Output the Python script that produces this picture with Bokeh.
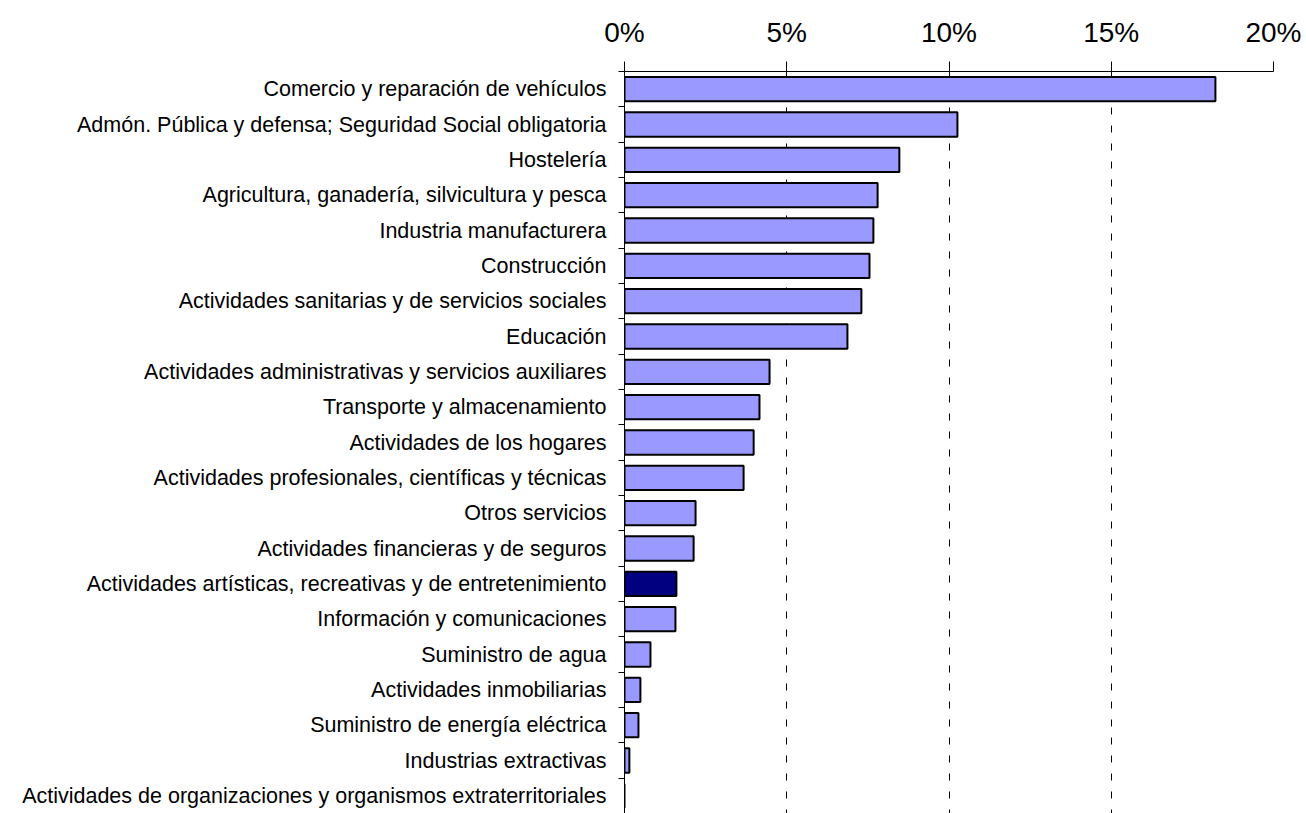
from bokeh.plotting import figure
from bokeh.models import Range1d, FixedTicker, ColumnDataSource
from bokeh.embed import file_html
from bokeh.resources import INLINE

categories = [
    "Comercio y reparación de vehículos",
    "Admón. Pública y defensa; Seguridad Social obligatoria",
    "Hostelería",
    "Agricultura, ganadería, silvicultura y pesca",
    "Industria manufacturera",
    "Construcción",
    "Actividades sanitarias y de servicios sociales",
    "Educación",
    "Actividades administrativas y servicios auxiliares",
    "Transporte y almacenamiento",
    "Actividades de los hogares",
    "Actividades profesionales, científicas y técnicas",
    "Otros servicios",
    "Actividades financieras y de seguros",
    "Actividades artísticas, recreativas y de entretenimiento",
    "Información y comunicaciones",
    "Suministro de agua",
    "Actividades inmobiliarias",
    "Suministro de energía eléctrica",
    "Industrias extractivas",
    "Actividades de organizaciones y organismos extraterritoriales",
]
values = [18.21, 10.26, 8.47, 7.80, 7.67, 7.55, 7.30, 6.87, 4.47, 4.16, 3.98,
          3.67, 2.19, 2.13, 1.60, 1.57, 0.80, 0.49, 0.43, 0.15, 0.0]
highlight = "Actividades artísticas, recreativas y de entretenimiento"

x_ticks = [0, 5, 10, 15, 20]
x_tick_labels = ["0%", "5%", "10%", "15%", "20%"]

n = len(categories)
pos = list(range(n))
colors = ["#000080" if c == highlight else "#9999FF" for c in categories]
src = ColumnDataSource(dict(y=pos, v=values, color=colors, cat=categories))

p = figure(width=1306, height=813,
           x_range=Range1d(0, 20), y_range=Range1d(n - 0.5, -0.5),
           x_axis_location="above", output_backend="svg", toolbar_location=None,
           min_border_left=624, min_border_top=71, min_border_right=33,
           min_border_bottom=0)
p.outline_line_color = None
p.background_fill_color = "white"
p.border_fill_color = "white"

p.hbar(y="y", left=0, right="v", height=0.69, fill_color="color",
       line_color="black", line_width=2, source=src)

# x axis (top)
xa = p.xaxis[0]
xa.ticker = FixedTicker(ticks=x_ticks)
xa.major_label_overrides = {t: l for t, l in zip(x_ticks, x_tick_labels)}
xa.major_label_text_font = "Liberation Sans"
xa.major_label_text_font_size = "28px"
xa.major_label_text_color = "black"
xa.major_label_standoff = 14
xa.major_tick_in = 0
xa.major_tick_out = 10
xa.major_tick_line_color = "black"
xa.minor_tick_line_color = None
xa.axis_line_color = "black"

# y axis (left)
ya = p.yaxis[0]
ya.ticker = FixedTicker(ticks=pos, minor_ticks=[i - 0.5 for i in range(n + 1)])
ya.major_label_overrides = {i: c for i, c in zip(pos, categories)}
ya.major_label_text_font = "Liberation Sans"
ya.major_label_text_font_size = "21.5px"
ya.major_label_text_color = "black"
ya.major_label_standoff = 12
ya.major_tick_in = 0
ya.major_tick_out = 0
ya.minor_tick_in = 0
ya.minor_tick_out = 6
ya.minor_tick_line_color = "black"
ya.axis_line_color = "black"

p.xgrid.ticker = FixedTicker(ticks=x_ticks)
p.xgrid.grid_line_color = "black"
p.xgrid.grid_line_dash = "7 11"
p.xgrid.grid_line_width = 1
p.ygrid.grid_line_color = None

open("out.html", "w").write(file_html(p, INLINE))
